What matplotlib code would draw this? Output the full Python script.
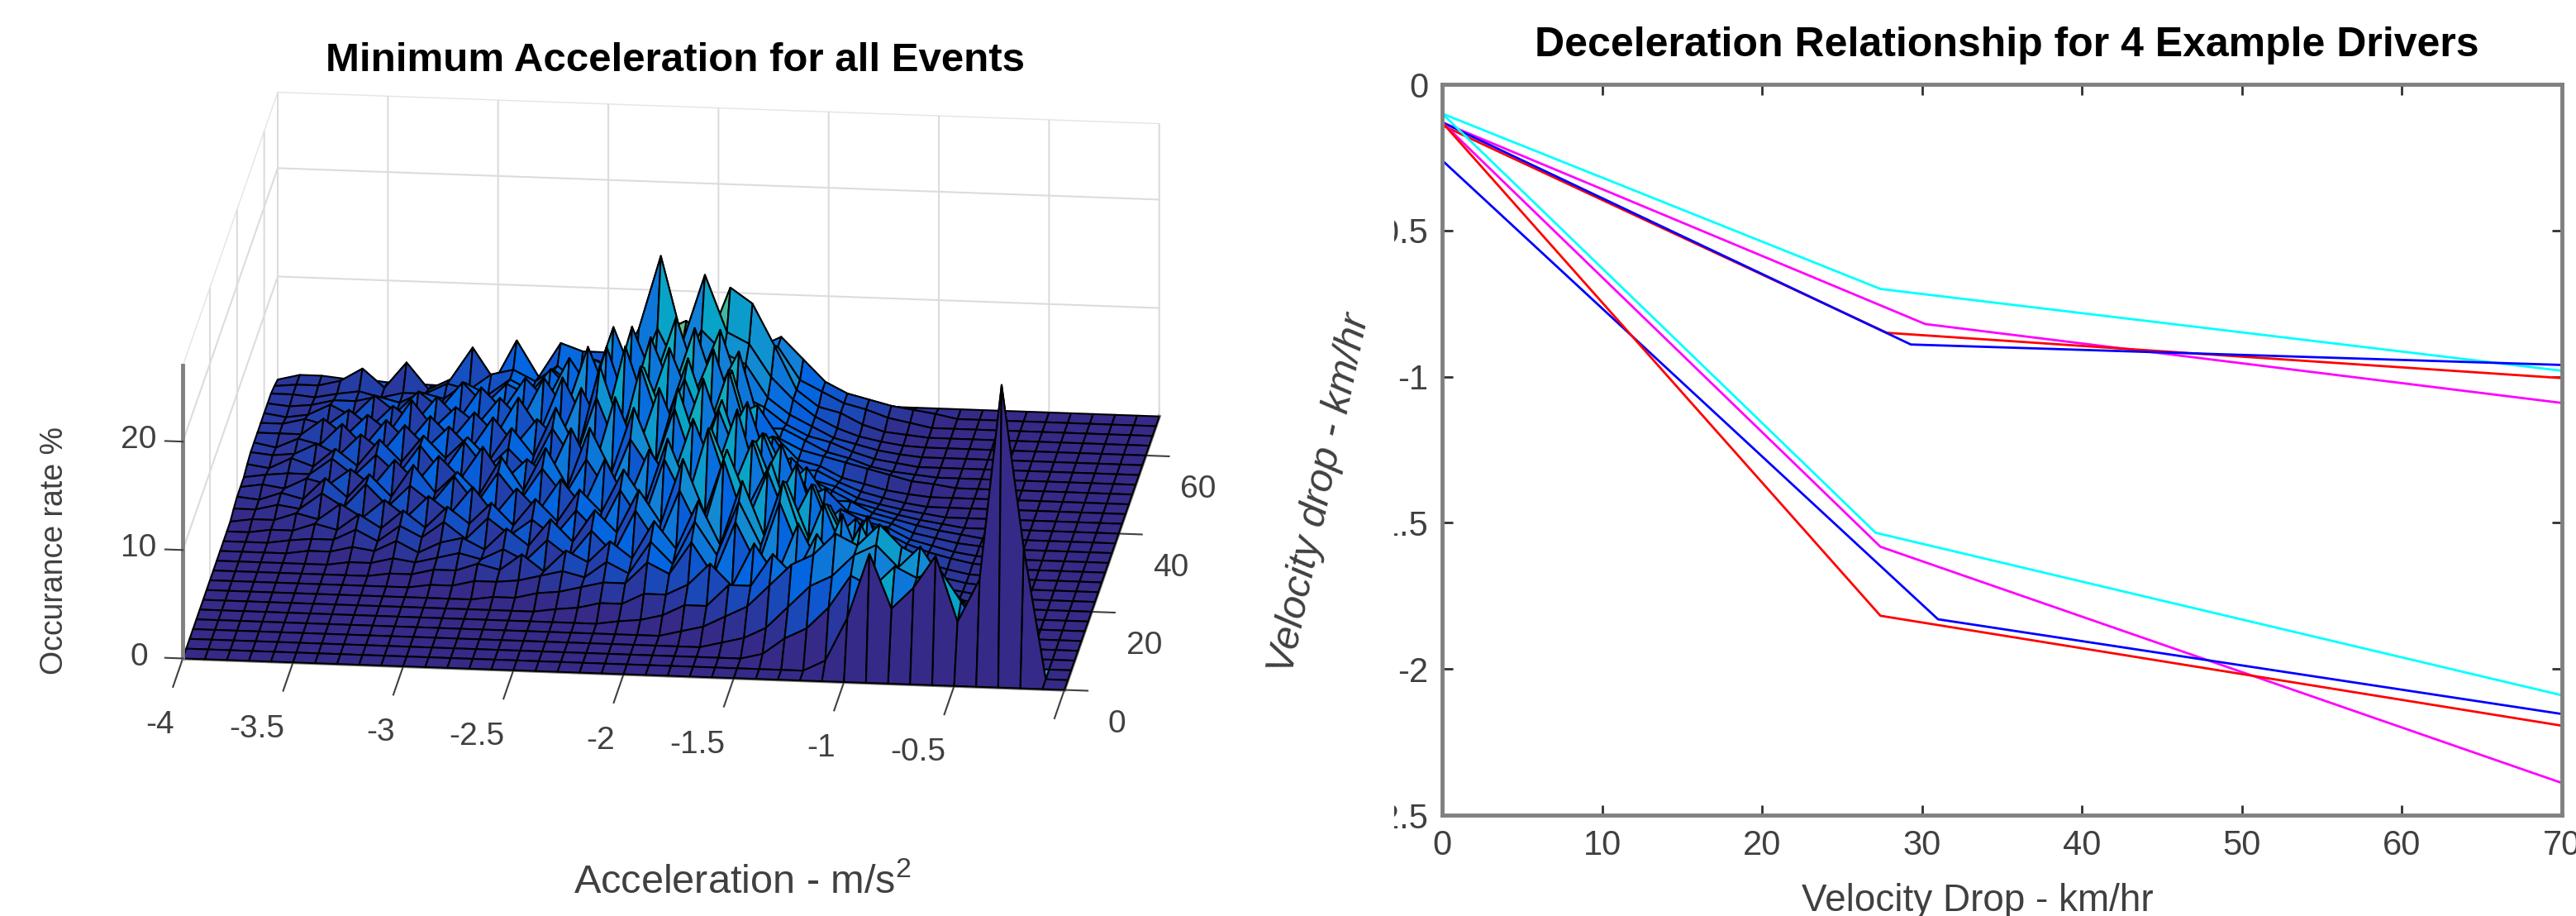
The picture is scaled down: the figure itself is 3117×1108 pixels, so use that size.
import numpy as np
import matplotlib
matplotlib.use("Agg")
import matplotlib.pyplot as plt
from matplotlib.colors import LinearSegmentedColormap
from matplotlib.transforms import Bbox

W, H = 3117, 1108
plt.rcParams["font.family"] = ["Liberation Sans", "DejaVu Sans"]
plt.rcParams["mathtext.default"] = "regular"

# right chart: (velocity drop, decel) for the 4 drivers, two levels each
x_cyan_hi = [0, 27.4, 70]
y_cyan_hi = [-0.10, -0.70, -0.98]
x_mag_hi = [0, 30.2, 70]
y_mag_hi = [-0.13, -0.82, -1.09]
x_red_hi = [0, 27.8, 70]
y_red_hi = [-0.14, -0.85, -1.005]
x_blue_hi = [0, 29.3, 70]
y_blue_hi = [-0.13, -0.89, -0.96]
x_cyan_lo = [0, 27.1, 70]
y_cyan_lo = [-0.10, -1.534, -2.09]
x_mag_lo = [0, 27.4, 70]
y_mag_lo = [-0.13, -1.582, -2.39]
x_blue_lo = [0, 31.0, 70]
y_blue_lo = [-0.26, -1.83, -2.154]
x_red_lo = [0, 27.4, 70]
y_red_lo = [-0.13, -1.818, -2.194]
right_xticks = [0, 10, 20, 30, 40, 50, 60, 70]
right_yticks = [0, -0.5, -1, -1.5, -2, -2.5]
right_ylabels = ["0", "-0.5", "-1", "-1.5", "-2", "-2.5"]

# left chart: occurance rate, rows are velocity drop, columns are acceleration
accel = [-4 + 0.1 * i for i in range(41)]
vdrop = [2.5 * i for i in range(29)]
left_xticks = [-4, -3.5, -3, -2.5, -2, -1.5, -1, -0.5, 0]
left_xlabels = ["-4", "-3.5", "-3", "-2.5", "-2", "-1.5", "-1", "-0.5", ""]
left_yticks = [0, 20, 40, 60]
left_zticks = [0, 10, 20]
z0 = [0] * 10
occ = [
    z0 + z0 + z0 + z0 + [0],
    z0 + z0 + [0, 0, 0, 0, 0, 0, 0, 0, 0, 1] + [5, 11, 6, 8, 11, 5, 9, 27, 12, 0] + [0],
    z0 + z0 + [0, 0, 0, 0, 0, 0, .5, 2, 3, 5] + [8, 7, 9, 8, 9, 6, 3, 0, 0, 0] + [0],
    z0 + z0 + [0, 0, 0, 0, .5, 1, 2, 4, 6, 7] + [9, 10, 8, 10, 7, 5, 1.5, .5, 0, 0] + [0],
    z0 + z0 + [0, 0, .5, 1, 2, 3, 5, 7, 8, 10] + [9, 11, 9, 8, 5, 3, 1, .3, 0, 0] + [0],
    z0 + [0, 0, 0, 0, 0, 0, 0, 0, 0, .3] + [.5, 1, 2, 2, 4, 4, 7, 5, 9, 6] + [10, 6, 8, 4, 4, 1, .5, 0, 0, 0] + [0],
    z0 + [0, 0, 0, 0, 0, 0, .3, .5, 1, 1] + [2, 2, 3, 5, 3, 7, 4, 9, 5, 10] + [5, 9, 4, 5, 1.5, .8, .3, 0, 0, 0] + [0],
    z0 + [0, 0, 0, .3, .3, .8, 1, 1.5, 2, 2] + [4, 3, 6, 3, 8, 4, 10, 5, 10, 5] + [9, 4, 5, 1.5, 1, .5, 0, 0, 0, 0] + [0],
    z0 + [.3, .3, .8, .8, 1, 1.5, 2, 1.5, 3, 2] + [5, 3, 7, 4, 9, 5, 11, 5, 9, 5] + [7, 3, 2.5, 1, .7, .3, 0, 0, 0, 0] + [0],
    [0, 0, 0, 0, 0, 0, 0, 0, .3, .3] + [.8, .8, 1.5, 1, 2.5, 1, 3, 2, 4, 2.5] + [6, 3.5, 8, 4, 10, 5, 10, 5, 8, 4] + [5, 2, 2, .8, .5, .2, 0, 0, 0, 0] + [0],
    [0, 0, 0, 0, 0, 0, .3, .3, .8, .5] + [1, 1.5, 1, 2, 1, 3, 1.5, 4, 2, 6] + [3, 8, 4, 11, 5, 10, 5, 9, 4, 6] + [3, 2, 1.3, .8, .4, .2, 0, 0, 0, 0] + [0],
    [0, 0, 0, 0, .3, .3, .8, .5, 1.5, .5] + [1.5, 2, 1, 3, 1.5, 4, 2, 5, 3, 7] + [4, 10, 5, 11, 6, 10, 4, 8, 3, 4] + [3, 2, 1.2, .7, .3, .2, 0, 0, 0, 0] + [0],
    [0, 0, 0, .3, .5, .5, 1.5, .5, 2, 1] + [2.5, 1, 3, 1.5, 3, 1.5, 4, 2, 6, 3] + [9, 5, 12, 6, 11, 5, 9, 3, 5, 4] + [3, 2, 1.3, .8, .4, .2, 0, 0, 0, 0] + [0],
    [0, 0, .3, .3, 1, .5, 2, .8, 2.5, 1] + [3, 1.5, 3.5, 1.5, 4, 2, 5, 3, 7, 4] + [10, 5, 11, 6, 10, 5, 7, 3, 3.5, 3] + [2.5, 1.5, 1, .5, .2, 0, 0, 0, 0, 0] + [0],
    [0, .3, .3, 1, .5, 2, .8, 2.5, 1, 3] + [1.5, 4, 1.5, 4, 2, 5, 2.5, 7, 3, 8] + [5, 11, 6, 12, 5, 9, 4, 5, 3, 2.5] + [2, 1.2, .8, .4, .2, 0, 0, 0, 0, 0] + [0],
    [.3, .3, .8, .5, 2, .8, 3, 1, 3, 1.5] + [4, 1.5, 4.5, 2, 5, 2.5, 6, 3, 8, 5] + [11, 5, 11, 6, 9, 4, 6, 3, 3, 2] + [1.5, 1, .6, .3, 0, 0, 0, 0, 0, 0] + [0],
    [.5, .3, 1, .5, 2.5, .8, 3, 1, 4, 1.5] + [3.5, 1.5, 5, 2, 6, 2.5, 8, 4, 10, 5] + [12, 6, 11, 5, 8, 4, 4, 3, 2, 1.5] + [1, .6, .3, 0, 0, 0, 0, 0, 0, 0] + [0],
    [.5, .8, .5, 1.5, 1, 2.5, 1, 3.5, 1.5, 4] + [2, 5, 2, 4, 2.5, 7, 3, 10, 5, 11] + [6, 12, 6, 10, 4, 5, 3, 2.5, 1.5, 1] + [.6, .3, 0, 0, 0, 0, 0, 0, 0, 0] + [0],
    [.5, .8, 1, 1, 2.5, 1, 3, 1.2, 4, 1.5] + [4.5, 2, 4, 2, 6, 3, 9, 4, 12, 6] + [11, 6, 12, 5, 6, 3, 3, 2, 1.2, .7] + [.3, 0, 0, 0, 0, 0, 0, 0, 0, 0] + [0],
    [.8, .5, 1.5, .8, 2.5, 1, 3.5, 1.5, 4, 2] + [4, 2, 5, 2.5, 7, 3, 11, 5, 11, 6] + [12, 6, 11, 4, 5, 3, 2.5, 1.5, 1, .5] + [.2, 0, 0, 0, 0, 0, 0, 0, 0, 0] + [0],
    [1, .8, 1, 2, 1, 3, 1.5, 4, 2, 4] + [2, 5, 2.5, 5, 3, 8, 4, 12, 6, 12] + [7, 12, 6, 7, 4, 3, 2.5, 2, 1.5, 1] + [.5, .3, 0, 0, 0, 0, 0, 0, 0, 0] + [0],
    [1, .6, 1.5, 1, 3, 1, 3.5, 1.5, 4, 2] + [4.5, 2.5, 6, 3, 8, 4, 11, 5, 12, 7] + [13, 7, 11, 4, 4, 3, 2, 1.5, .8, .4] + [.2, 0, 0, 0, 0, 0, 0, 0, 0, 0] + [0],
    [1, 1, 1, 2.5, 1, 3, 1.5, 4.5, 2, 4] + [2.5, 5, 3, 7, 4, 10, 5, 12, 7, 13] + [7, 12, 6, 5, 3.5, 2.5, 2, 1.2, .6, .3] + z0 + [0],
    [1, 1, 1.5, 1, 2.5, 1, 3, 1.5, 4, 2] + [5, 3, 6, 4, 8, 5, 11, 6, 11, 7] + [11, 9, 8, 5, 3.5, 2.5, 1.5, 1, .5, .2] + z0 + [0],
    [1, .7, 1, 2, 1, 3, 1.5, 3.5, 2, 4.5] + [2.5, 4.5, 3.5, 6, 4, 7, 6, 10, 16.8, 9] + [15.2, 10, 9, 6, 4, 2.5, 1.5, .8, .4, .1] + z0 + [0],
    [1, .8, 1, 1.5, 1.5, 2, 1.5, 2.5, 2, 3.5] + [2.5, 4, 3, 5, 3.5, 6, 5, 8, 9, 10] + [8, 13.2, 11.8, 8, 4, 2.5, 2, 1, .4, .2] + z0 + [0],
    [1, 1, .8, 1.2, 1.5, 1, 1.5, 1.5, 2.5, 2] + [3.5, 4, 3, 4.5, 3, 4.5, 4, 5, 7, 6] + [7, 7, 6, 7, 4, 3, 2, 1.5, .8, .4] + z0 + [0],
    [.8, 1, 1, 1.5, 2.7, 1, 3.4, 1, 2, 5] + [2, 5.8, 2.5, 5.7, 5, 5, 5, 5, 5, 5] + [6, 6, 6, 7, 5, 3, 2, 1.5, 1, .7] + [.4, 0, 0, 0, 0, 0, 0, 0, 0, 0] + [0],
    [.5, 1, 1, .8, .8, .6, .6, .5, .5, .6] + [.8, .8, 1, 1, 1, 1, 1, 1, 1, 1] + [1, 1, 1, .8, .6, .4, .2, 0, 0, 0] + z0 + [0],
]

GREY = "#808080"
TXT = "#404040"
GRID = "#dcdcdc"
fig = plt.figure(figsize=(W / 100, H / 100), dpi=100)


def box(x0, y0, x1, y1):
    # pixel box (origin top left) to figure fractions
    return [x0 / W, 1 - y1 / H, (x1 - x0) / W, (y1 - y0) / H]


# left, 3d surface
parula = LinearSegmentedColormap.from_list(
    "parula", ["#352a87", "#0363e1", "#1485d4", "#06a7c6", "#38b99e", "#92bf73", "#d9ba56", "#fcce2e", "#f9fb0e"]
)
ax3 = fig.add_axes(box(-61, -354, 1639, 1346), projection="3d", proj_type="ortho", computed_zorder=False)
ax3.view_init(elev=18.7, azim=-83.65)
ax3.set_box_aspect((979, 947, 341), zoom=0.879)
X, Y = np.meshgrid(accel, vdrop)
Z = np.array(occ, dtype=float)
ax3.plot_surface(
    X, Y, Z, rstride=1, cstride=1, facecolors=parula(Z / 30), shade=False,
    edgecolor="black", linewidth=1.5, antialiased=True, zorder=2,
)
ax3.set_xlim(-4, 0, view_margin=0)
ax3.set_ylim(0, 70, view_margin=0)
ax3.set_zlim(0, 27, view_margin=0)
ax3.set_xticks(left_xticks)
ax3.set_xticklabels(left_xlabels)
ax3.set_yticks(left_yticks)
ax3.set_zticks([])
for a in (ax3.xaxis, ax3.yaxis, ax3.zaxis):
    a.set_pane_color((1, 1, 1, 1))
    a.pane.set_edgecolor("#e4e4e4")
    a.line.set_color(GREY)
    a.line.set_linewidth(3)
    a.label.set_visible(False)
    a.get_offset_text().set_visible(False)
    a._axinfo["grid"].update(color=GRID, linewidth=1.5)
    a._axinfo["tick"].update(inward_factor=0.33, outward_factor=0, linewidth={True: 1.5, False: 1}, color=TXT)
ax3.xaxis._axinfo["tick"].update(inward_factor=1.3)
ax3.zaxis.line.set_color("none")
ax3.tick_params(labelsize=28, colors=TXT)
ax3.xaxis.set_tick_params(pad=50)
ax3.yaxis.set_tick_params(pad=30)
for lab in ax3.xaxis.get_ticklabels():
    lab.set_horizontalalignment("right")
# matlab keeps the z axis on the front left corner, so z grid and ticks go by hand
ax3.plot3D([-4, -4], [0, 0], [0, 27], color=GREY, lw=3.5, zorder=3)
for v in left_zticks:
    ax3.plot3D([-4, -4, 0], [0, 70, 70], [v, v, v], color=GRID, lw=1.5, zorder=1)
    ax3.plot3D([-4, -4.08], [0, 0], [v, v], color=TXT, lw=1.5, zorder=3)
    ax3.text(-4.2, 0, v, str(v), fontsize=28, color=TXT, ha="center", va="center", zorder=3)

fig.text(817 / W, 1 - 74 / H, "Minimum Acceleration for all Events", fontsize=35.5, fontweight="bold",
         ha="center", va="center", color="black")
fig.text(66 / W, 1 - 666 / H, "Occurance rate %", fontsize=27, rotation=90, ha="center", va="center", color=TXT)
fig.text(898 / W, 1 - 1067 / H, "Acceleration - m/s$^2$", fontsize=35, ha="center", va="center", color=TXT)

# right, line plot
ax = fig.add_axes(box(1745, 102, 3100, 986))
ax.plot(x_cyan_hi, y_cyan_hi, color="#00ffff", lw=2)
ax.plot(x_mag_hi, y_mag_hi, color="#ff00ff", lw=2)
ax.plot(x_red_hi, y_red_hi, color="#ff0000", lw=2)
ax.plot(x_blue_hi, y_blue_hi, color="#0000ff", lw=2)
ax.plot(x_cyan_lo, y_cyan_lo, color="#00ffff", lw=2)
ax.plot(x_mag_lo, y_mag_lo, color="#ff00ff", lw=2)
ax.plot(x_blue_lo, y_blue_lo, color="#0000ff", lw=2)
ax.plot(x_red_lo, y_red_lo, color="#ff0000", lw=2)
ax.set_xlim(0, 70)
ax.set_ylim(-2.5, 0)
ax.set_xticks(right_xticks)
ax.set_yticks(right_yticks)
ax.set_yticklabels(right_ylabels)
ax.tick_params(direction="in", length=9, width=2, color="#303030", top=True, right=True,
               labelsize=30, labelcolor=TXT, pad=12)
for s in ax.spines.values():
    s.set_linewidth(3.5)
    s.set_color(GREY)
for lab in ax.get_yticklabels():
    lab.set_clip_box(Bbox([[1687, 0], [W, H]]))
    lab.set_clip_on(True)
fig.text(2428 / W, 1 - 55 / H, "Deceleration Relationship for 4 Example Drivers", fontsize=36, fontweight="bold",
         ha="center", va="center", color="black")
fig.text(2393 / W, 1 - 1090 / H, "Velocity Drop - km/hr", fontsize=33, ha="center", va="center", color=TXT)
fig.text(1597 / W, 1 - 597 / H, "Velocity drop - km/hr", fontsize=35, rotation=78, style="italic",
         ha="center", va="center", color=TXT)

fig.savefig("out.png", dpi=100)
